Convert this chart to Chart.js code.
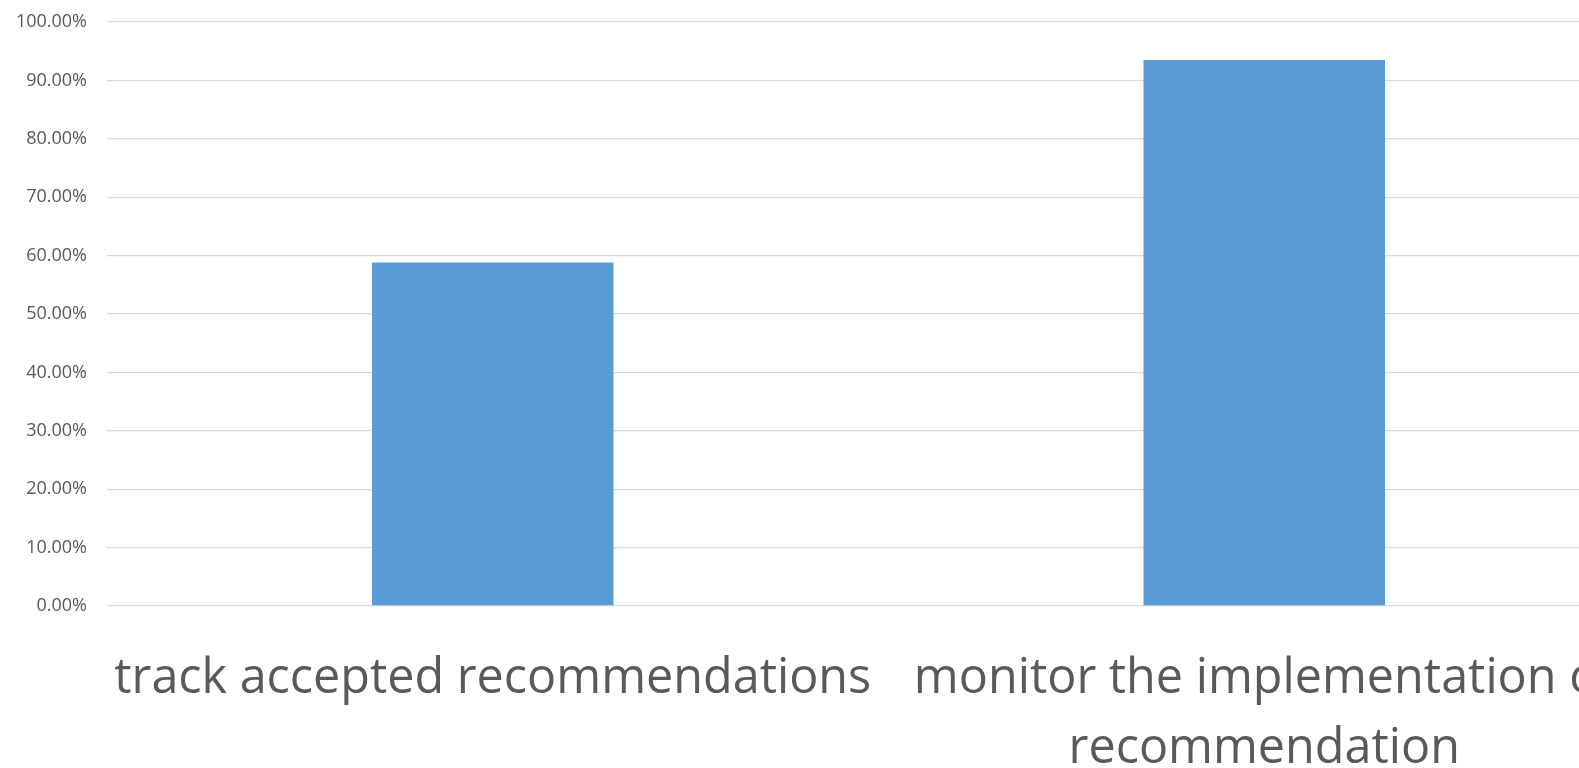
<!DOCTYPE html>
<html>
<head>
<meta charset="utf-8">
<script src="https://cdn.jsdelivr.net/npm/chart.js@4/dist/chart.umd.min.js"></script>
<style>
  html, body { margin: 0; padding: 0; overflow: hidden; background: #fff; }
  #wrap { width: 1650px; height: 768px; }
</style>
</head>
<body>
<div id="wrap"><canvas id="chart" width="1650" height="768"></canvas></div>
<script>
// categories and the share of each one (percent)
const categories = [
  'track accepted recommendations',
  ['monitor the implementation of', 'recommendation']
];
const shares = [58.8, 93.5];
const yTicks = { min: 0, max: 100, step: 10 };

const ctx = document.getElementById('chart').getContext('2d');
new Chart(ctx, {
  type: 'bar',
  data: {
    labels: categories,
    datasets: [{
      data: shares,
      backgroundColor: '#5b9bd5',
      borderWidth: 0,
      categoryPercentage: 1,
      barPercentage: 0.313
    }]
  },
  options: {
    responsive: false,
    animation: false,
    layout: { padding: { top: 22, left: 0, right: 0, bottom: 0 } },
    plugins: { legend: { display: false }, tooltip: { enabled: false } },
    scales: {
      x: {
        grid: { display: false, drawTicks: false },
        border: { display: false },
        afterFit: s => {
          s.height = 162;
          s.paddingLeft = 0;
          s.paddingRight = 0;
        },
        ticks: {
          autoSkip: false,
          maxRotation: 0,
          minRotation: 0,
          padding: 39,
          color: '#595959',
          font: { family: 'Open Sans', size: 48.5, lineHeight: 1.43 }
        }
      },
      y: {
        min: yTicks.min,
        max: yTicks.max,
        grid: { color: '#d9d9d9', lineWidth: 1.3, drawTicks: false },
        border: { display: false },
        afterFit: s => {
          s.width = 107;
          s.paddingTop = 0;
          s.paddingBottom = 0;
        },
        ticks: {
          stepSize: yTicks.step,
          padding: 20,
          color: '#595959',
          font: { family: 'Open Sans', size: 18 },
          callback: v => v.toFixed(2) + '%'
        }
      }
    }
  }
});
</script>
</body>
</html>
